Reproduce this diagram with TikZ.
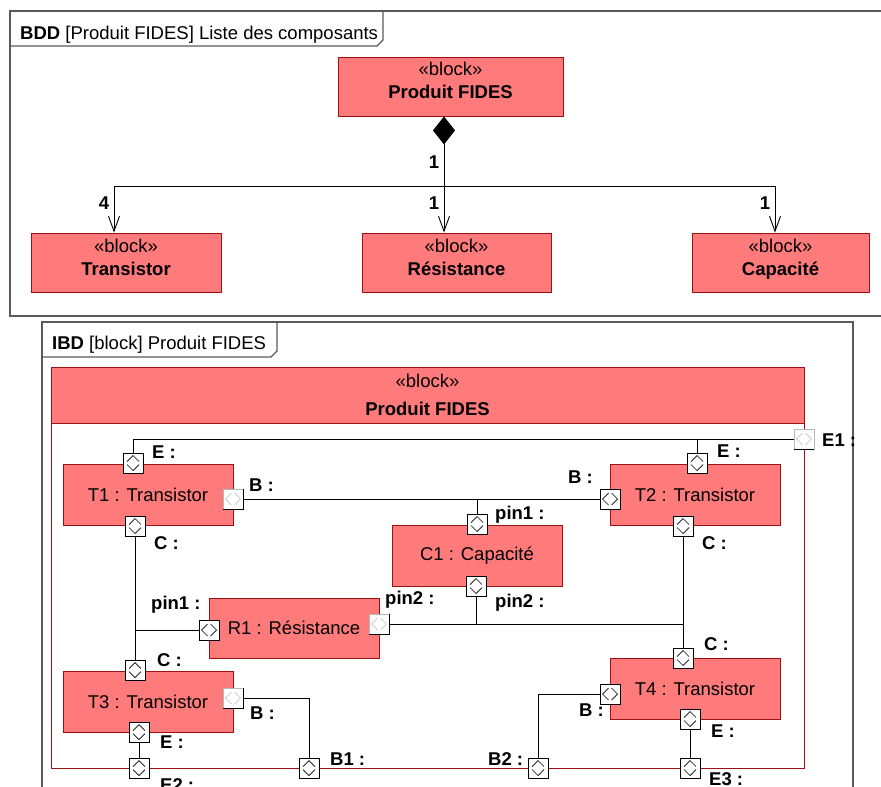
\documentclass[tikz,border=0pt]{standalone}
\usepackage{fontspec}
\setmainfont{Liberation Sans}
\usetikzlibrary{arrows.meta}
\definecolor{blk}{HTML}{FF7A7A}
\definecolor{blkline}{HTML}{A01010}
\definecolor{frm}{HTML}{5A5A5A}
\definecolor{lite}{HTML}{B8B8B8}
\newcommand{\dfont}{\fontsize{18.5}{22}\selectfont}
\begin{document}
\begin{tikzpicture}[x=1pt,y=-1pt, font=\dfont,
  frame/.style={draw=frm, line width=1.1pt},
  bblock/.style={draw=blkline, fill=blk, line width=0.9pt, minimum width=#1, minimum height=59pt, inner sep=0pt},
  part/.style={draw=blkline, fill=blk, line width=0.9pt, minimum width=170pt, minimum height=61pt, inner sep=0pt},
  txt/.style={inner sep=0pt, anchor=base},
  lbl/.style={inner sep=0pt, anchor=base west, font=\dfont\bfseries},
  mult/.style={inner sep=0pt, font=\dfont\bfseries},
  conn/.style={draw=black, line width=0.9pt},
  arr/.style={conn, -{Straight Barb[length=15pt,width=11pt]}},
  portbox/.style={draw=black, fill=white, line width=0.9pt, minimum size=20pt, inner sep=0pt},
  vport/.style={portbox, path picture={\draw[line width=0.7pt] ([shift={(-6pt,1.5pt)}]path picture bounding box.center) -- ++(6pt,6pt) -- ++(6pt,-6pt) ([shift={(-6pt,-1.5pt)}]path picture bounding box.center) -- ++(6pt,-6pt) -- ++(6pt,6pt);}},
  hport/.style={portbox, path picture={\draw[line width=0.7pt] ([shift={(-1.5pt,6pt)}]path picture bounding box.center) -- ++(-6pt,-6pt) -- ++(6pt,-6pt) ([shift={(1.5pt,6pt)}]path picture bounding box.center) -- ++(6pt,-6pt) -- ++(-6pt,-6pt);}},
  lport/.style={portbox, draw=lite, path picture={\draw[line width=0.6pt, draw=lite] ([shift={(-1.5pt,6pt)}]path picture bounding box.center) -- ++(-6pt,-6pt) -- ++(6pt,-6pt) ([shift={(1.5pt,6pt)}]path picture bounding box.center) -- ++(6pt,-6pt) -- ++(-6pt,-6pt);}},
]
\clip (0,0) rectangle (881,787);
\fill[white] (0,0) rectangle (881,787);

% ---------------- BDD ----------------
\draw[frame] (10,11) rectangle (895,316);
\draw[frame] (10,46) -- (377,46) -- (383,40) -- (383,11);
\node[txt, anchor=base west] (bddtitle) at (20,39) {\textbf{BDD} [Produit FIDES] Liste des composants};

\node[bblock=225pt] (PF) at (450.5,86.5) {};
\node[bblock=190pt] (Tr) at (126,262.5) {};
\node[bblock=189pt] (Res) at (456.5,262.5) {};
\node[bblock=177pt] (Cap) at (780.5,262.5) {};

\node[txt] (PFs) at (450.5,75) {«block»};
\node[txt, font=\dfont\bfseries] (PFn) at (450.5,98) {Produit FIDES};
\node[txt] (Trs) at (126,252) {«block»};
\node[txt, font=\dfont\bfseries] (Trn) at (126,275) {Transistor};
\node[txt] (Ress) at (456.5,252) {«block»};
\node[txt, font=\dfont\bfseries] (Resn) at (456.5,275) {Résistance};
\node[txt] (Caps) at (780.5,252) {«block»};
\node[txt, font=\dfont\bfseries] (Capn) at (780.5,275) {Capacité};

\coordinate (split) at (444,186);
\draw[conn, {Diamond[length=28pt,width=22pt]}-{Straight Barb[length=15pt,width=11pt]}]
  ([xshift=-6.5pt]PF.south) -- ([xshift=-12.5pt]Res.north);
\draw[arr] (split) -| ([xshift=-12pt]Tr.north);
\draw[arr] (split) -| ([xshift=-5.5pt]Cap.north);

\node[mult] (m0) at (434,162) {1};
\node[mult] (m1) at (104,203) {4};
\node[mult] (m2) at (434,203) {1};
\node[mult] (m3) at (765,203) {1};

% ---------------- IBD ----------------
\draw[frame] (42,800) -- (42,322) -- (853,322) -- (853,800);
\draw[frame] (42,357) -- (271,357) -- (277,351) -- (277,322);
\node[txt, anchor=base west] (ibdtitle) at (52,349) {\textbf{IBD} [block] Produit FIDES};

\node[draw=blkline, line width=0.9pt, minimum width=753pt, minimum height=401pt, inner sep=0pt, anchor=north west] (PFbody) at (51,367) {};
\node[draw=blkline, fill=blk, line width=0.9pt, minimum width=753pt, minimum height=56pt, inner sep=0pt, anchor=north west] (PFhdr) at (51,367) {};
\node[txt] (hdrs) at (427.5,387) {«block»};
\node[txt, font=\dfont\bfseries] (hdrn) at (427.5,415) {Produit FIDES};

% parts
\node[part] (T1) at (148,494.5) {T1 : Transistor};
\node[part] (T2) at (695,494.5) {T2 : Transistor};
\node[part] (C1) at (477,555.5) {C1 : Capacité};
\node[part, minimum height=60pt] (R1) at (294,628) {R1 : Résistance};
\node[part] (T3) at (148,701.5) {T3 : Transistor};
\node[part] (T4) at (695,688.5) {T4 : Transistor};

% ports
\node[vport] (T1E) at (133,463) {};
\node[vport] (T1C) at (135,526) {};
\node[lport] (T1B) at (233,499) {};
\node[vport] (T2E) at (697,463) {};
\node[hport] (T2B) at (610,499) {};
\node[vport] (T2C) at (683,526) {};
\node[vport] (C1p1) at (477,524) {};
\node[vport] (C1p2) at (476,586) {};
\node[hport] (R1p1) at (209,630) {};
\node[lport] (R1p2) at (379,624) {};
\node[vport] (T3C) at (135,670) {};
\node[lport] (T3B) at (233,698) {};
\node[vport] (T3E) at (139,732) {};
\node[vport] (E2) at (139,768) {};
\node[vport] (B1) at (309,768) {};
\node[vport] (T4C) at (683,658) {};
\node[hport] (T4B) at (610,694) {};
\node[vport] (T4E) at (690,719) {};
\node[vport] (B2) at (538,768) {};
\node[vport] (E3) at (690,768) {};
\node[lport] (E1) at (804,439) {};

\foreach \p in {T1B,T3B,R1p2}
  \draw[line width=0.9pt] (\p.north east) -- (\p.south east) -- (\p.south west);
\draw[line width=1.8pt] (E1.south west) -- (E1.south east);

% connectors
\draw[conn] (T1E.north) |- (E1.west);
\draw[conn] (T2E.north) -- (T2E.north |- E1.west);
\draw[conn] (T1B.east) -- (T2B.west);
\draw[conn] (C1p1.north) -- (C1p1.north |- T2B.west);
\draw[conn] (T1C.south) -- (T3C.north);
\draw[conn] (R1p1.west) -- (R1p1.west -| T1C.south);
\draw[conn] (R1p2.east) -- (R1p2.east -| T2C.south);
\draw[conn] (C1p2.south) -- (C1p2.south |- R1p2.east);
\draw[conn] (T2C.south) -- (T4C.north);
\draw[conn] (T3B.east) -| (B1.north);
\draw[conn] (T3E.south) -- (E2.north);
\draw[conn] (T4B.west) -| (B2.north);
\draw[conn] (T4E.south) -- (E3.north);

% port labels
\node[lbl] (lT1E) at (152,458) {E :};
\node[lbl] (lT1B) at (249,491) {B :};
\node[lbl] (lT1C) at (154,549) {C :};
\node[lbl] (lT2E) at (717,457) {E :};
\node[lbl] (lT2B) at (568,483) {B :};
\node[lbl] (lT2C) at (702,549) {C :};
\node[lbl] (lC1p1) at (495,519) {pin1 :};
\node[lbl] (lC1p2) at (495,607) {pin2 :};
\node[lbl] (lR1p2) at (385,604) {pin2 :};
\node[lbl] (lR1p1) at (151,609) {pin1 :};
\node[lbl] (lT3C) at (157,666) {C :};
\node[lbl] (lT3B) at (250,719) {B :};
\node[lbl] (lT3E) at (160,748) {E :};
\node[lbl] (lE2) at (160,791) {E2 :};
\node[lbl] (lB1) at (330,765) {B1 :};
\node[lbl] (lT4C) at (704,650) {C :};
\node[lbl] (lT4B) at (579,716) {B :};
\node[lbl] (lT4E) at (711,737) {E :};
\node[lbl] (lB2) at (488,765) {B2 :};
\node[lbl] (lE3) at (709,785) {E3 :};
\node[lbl] (lE1) at (822,446) {E1 :};
\end{tikzpicture}
\end{document}
